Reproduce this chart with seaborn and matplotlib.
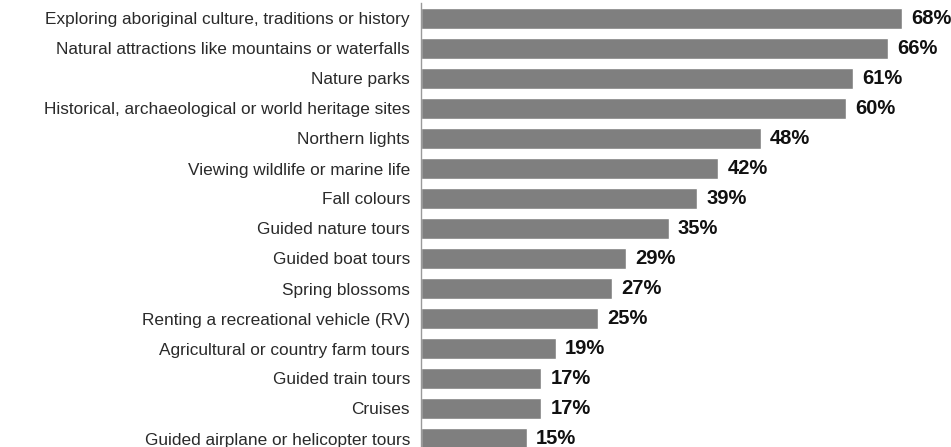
import matplotlib
matplotlib.use("Agg")
import matplotlib.pyplot as plt
import pandas as pd
import seaborn as sns

categories = [
    "Exploring aboriginal culture, traditions or history",
    "Natural attractions like mountains or waterfalls",
    "Nature parks",
    "Historical, archaeological or world heritage sites",
    "Northern lights",
    "Viewing wildlife or marine life",
    "Fall colours",
    "Guided nature tours",
    "Guided boat tours",
    "Spring blossoms",
    "Renting a recreational vehicle (RV)",
    "Agricultural or country farm tours",
    "Guided train tours",
    "Cruises",
    "Guided airplane or helicopter tours",
]
values = [68, 66, 61, 60, 48, 42, 39, 35, 29, 27, 25, 19, 17, 17, 15]

df = pd.DataFrame({"activity": categories, "share": values})

sns.set_theme(style="white")
plt.rcParams["font.family"] = ["Liberation Sans", "DejaVu Sans"]

fig = plt.figure(figsize=(9.51, 4.47), dpi=100)
# axes placed in pixel terms: left edge 421px, rows 30px apart
ax = fig.add_axes([421 / 951, -6.5 / 447, (951 - 421) / 951, 450 / 447])

sns.barplot(data=df, x="share", y="activity", color="#7f7f7f", saturation=1,
            width=0.7, ax=ax)

ax.set_xlim(0, 530 / 7.08)
ax.set_ylim(14.5, -0.5)
ax.set_xlabel("")
ax.set_ylabel("")
ax.set_xticks([])
ax.tick_params(axis="y", length=0, pad=8, labelsize=12.4, labelcolor="#2a2a2a")

for side in ["top", "right", "bottom"]:
    ax.spines[side].set_visible(False)
ax.spines["left"].set_color("#999999")
ax.spines["left"].set_linewidth(1)

for i, v in enumerate(values):
    ax.annotate(f"{v}%", (v, i), xytext=(6.5, 0), textcoords="offset points",
                va="center", ha="left", fontsize=14.5, fontweight="bold",
                color="#111111", annotation_clip=False)

plt.savefig("out.png", dpi=100)
plt.close()
